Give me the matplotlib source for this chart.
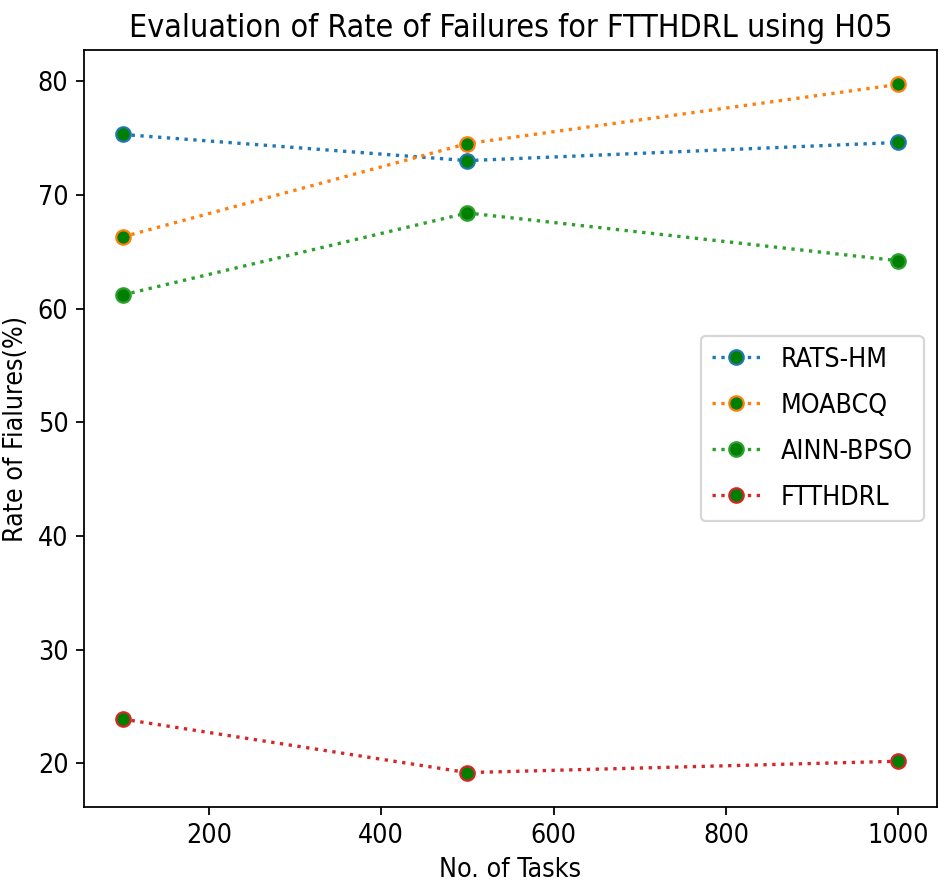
import numpy as np
import matplotlib
matplotlib.use('Agg')
import matplotlib.pyplot as plt

tasks = [100, 500, 1000]
rats_hm = [75.3, 73.0, 74.6]
moabcq = [66.3, 74.5, 79.7]
ainn_bpso = [61.2, 68.4, 64.2]
ftthdrl = [23.9, 19.2, 20.2]

series = [
    ('RATS-HM', rats_hm, 'tab:blue'),
    ('MOABCQ', moabcq, 'tab:orange'),
    ('AINN-BPSO', ainn_bpso, 'tab:green'),
    ('FTTHDRL', ftthdrl, 'tab:red'),
]

# the reference text looks a bit narrow and tall
plt.rcParams['font.family'] = ['DejaVu Sans']
plt.rcParams['font.stretch'] = 'condensed'
plt.rcParams['font.size'] = 12


def main():
    fig = plt.figure(figsize=(944 / 160, 893 / 160), dpi=160)
    ax = fig.add_axes([0.089, 0.0963, 0.9036, 0.8477])

    for name, vals, col in series:
        ax.plot(tasks, vals, linestyle=':', marker='o', markersize=6.5,
                color=col, markerfacecolor='green', label=name)

    ax.set_title('Evaluation of Rate of Failures for FTTHDRL using H05')
    ax.set_xlabel('No. of Tasks')
    ax.set_ylabel('Rate of Fialures(%)')
    ax.legend(loc='center right', labelspacing=0.75, handlelength=1.8)

    fig.savefig('out.png', dpi=160)


if __name__ == '__main__':
    main()
